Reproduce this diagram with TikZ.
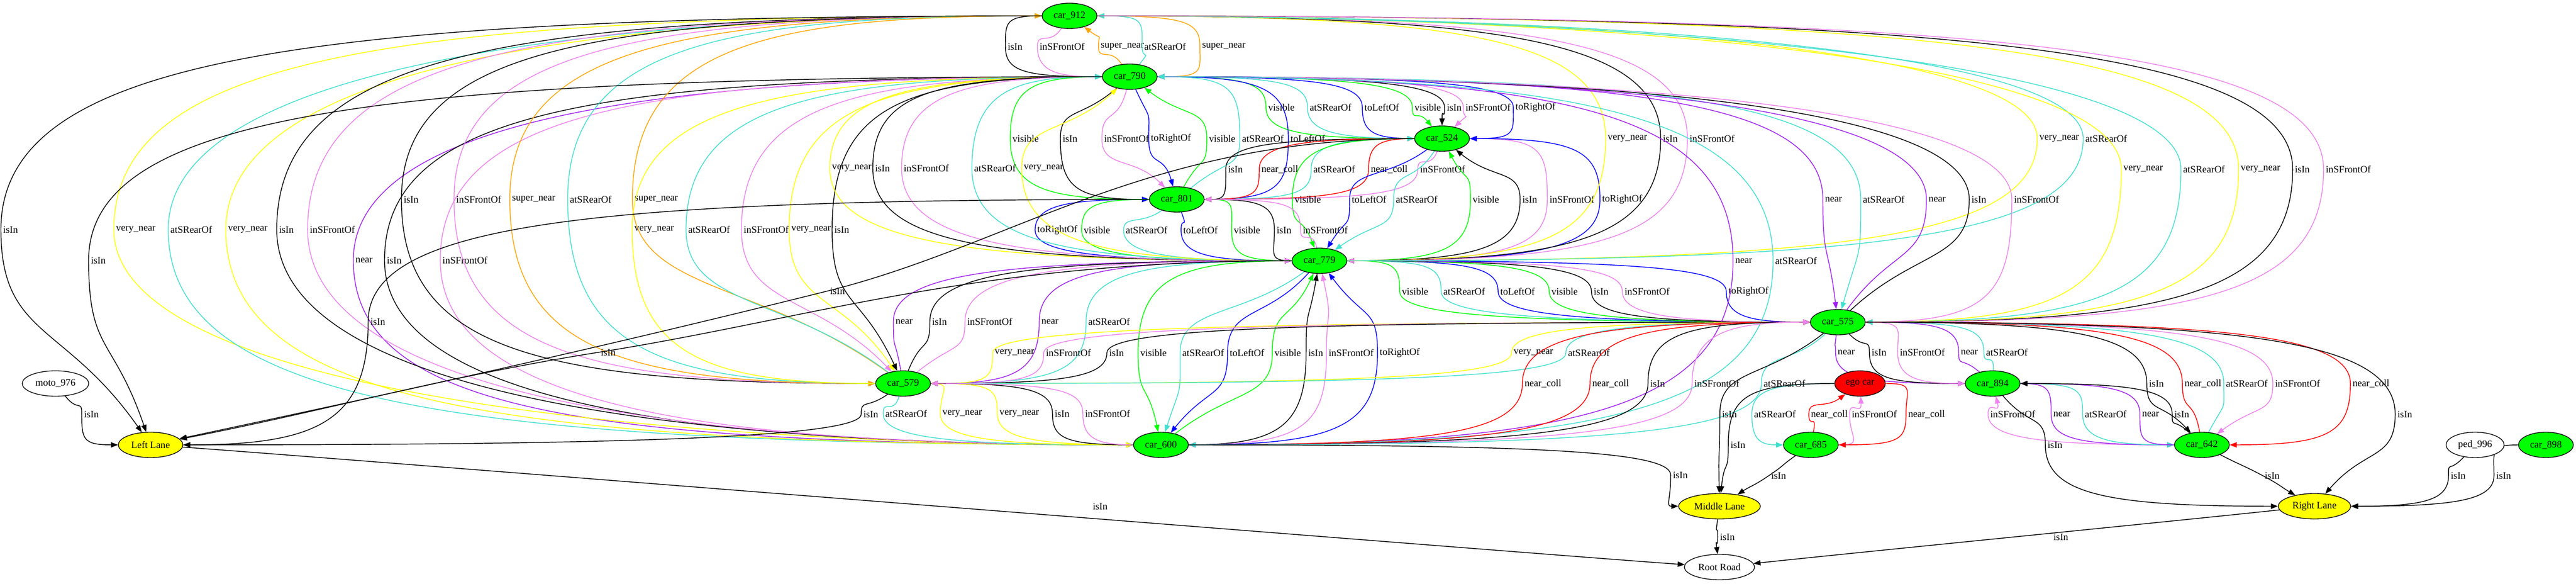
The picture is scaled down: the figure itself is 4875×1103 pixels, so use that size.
\documentclass[tikz,border=0pt]{standalone}
\usepackage{fontspec}
\setmainfont{Liberation Serif}
\usetikzlibrary{arrows.meta,shapes.geometric}
\definecolor{gvviolet}{HTML}{EE82EE}
\definecolor{gvturq}{HTML}{40E0D0}
\definecolor{gvpurple}{HTML}{A020F0}
\definecolor{gvyellow}{HTML}{FFFF00}
\definecolor{gvorange}{HTML}{FFA500}
\definecolor{gvgreen}{HTML}{00FF00}
\definecolor{gvblue}{HTML}{0000FF}
\definecolor{gvred}{HTML}{FF0000}
\pgfdeclarelayer{back}
\pgfdeclarelayer{bg}
\pgfsetlayers{back,bg,main}
\tikzset{
  gnode/.style={ellipse,draw=black,line width=1pt,inner xsep=5pt,inner ysep=3pt,minimum height=36pt,minimum width=70pt,font=\fontsize{14}{16}\selectfont},
  carnode/.style={gnode,fill=gvgreen},
  lanenode/.style={gnode,fill=gvyellow},
  egonode/.style={gnode,fill=gvred},
  plainnode/.style={gnode,fill=white},
  lbl/.style={inner xsep=3pt,inner ysep=1pt,font=\fontsize{14}{16}\selectfont},
  gvedge/.style={line width=1.1pt,-{Triangle[length=10pt,width=7.5pt]}},
  tIsIn/.style={gvedge,draw=black},
  tFront/.style={gvedge,draw=gvviolet},
  tRear/.style={gvedge,draw=gvturq},
  tNear/.style={gvedge,draw=gvpurple},
  tVnear/.style={gvedge,draw=gvyellow},
  tSnear/.style={gvedge,draw=gvorange},
  tVis/.style={gvedge,draw=gvgreen},
  tLR/.style={gvedge,draw=gvblue},
  tColl/.style={gvedge,draw=gvred},
}
\newcounter{lc}
\newcommand\N[5]{%
  \expandafter\gdef\csname nx@#1\endcsname{#2}%
  \expandafter\gdef\csname ny@#1\endcsname{#3}%
  \node[#4] (#1) at (#2,{1103-#3}) {#5};}
\newcommand\getpts[4]{%
  \pgfmathsetmacro\vx{#3-24}%
  \pgfmathsetmacro\vy{1103-#4}%
  \pgfmathsetmacro\sx{\csname nx@#1\endcsname}%
  \pgfmathsetmacro\sy{1103-\csname ny@#1\endcsname}%
  \pgfmathsetmacro\tx{\csname nx@#2\endcsname}%
  \pgfmathsetmacro\ty{1103-\csname ny@#2\endcsname}%
  \pgfmathsetmacro\dxa{\vx-\sx}%
  \pgfmathsetmacro\dya{\vy-\sy}%
  \pgfmathsetmacro\dxb{\tx-\vx}%
  \pgfmathsetmacro\dyb{\ty-\vy}}
\newcommand\ctrlpts{%
  \pgfmathsetmacro\cax{\sx+(\dA+25)/0.75*cos(\oA)}%
  \pgfmathsetmacro\cay{\sy+(\dA+25)/0.75*sin(\oA)}%
  \pgfmathsetmacro\cbx{\tx+(\eB+25)/0.75*cos(\iB)}%
  \pgfmathsetmacro\cby{\ty+(\eB+25)/0.75*sin(\iB)}}
\newcommand\E[6]{%
  \stepcounter{lc}\edef\curL{L\arabic{lc}}%
  \getpts{#2}{#3}{#4}{#5}%
  \pgfmathsetmacro\hA{abs(\dxa)>1.5*abs(\dya)}%
  \pgfmathtruncatemacro\oA{ifthenelse(\hA>0.5,ifthenelse(\dxa>0,0,180),atan2(\dya,\dxa))}%
  \pgfmathsetmacro\dA{min(1500,max(6,0.75*ifthenelse(\hA>0.5,0.7*abs(\dxa),50*veclen(\dxa/100,\dya/100))))}%
  \pgfmathtruncatemacro\iA{ifthenelse(\dya>0,-90,90)}%
  \pgfmathsetmacro\eA{min(400,max(6,0.75*ifthenelse(\hA>0.5,0.8*abs(\dya),0.5*abs(\dya))))}%
  \pgfmathsetmacro\hB{abs(\dxb)>1.5*abs(\dyb)}%
  \pgfmathtruncatemacro\oB{ifthenelse(\dyb>0,90,-90)}%
  \pgfmathsetmacro\dB{min(400,max(6,0.75*ifthenelse(\hB>0.5,0.8*abs(\dyb),0.5*abs(\dyb))))}%
  \pgfmathtruncatemacro\iB{ifthenelse(\hB>0.5,ifthenelse(\dxb>0,180,0),atan2(-(\dyb),-(\dxb)))}%
  \pgfmathsetmacro\eB{min(600,max(6,0.75*ifthenelse(\hB>0.5,0.7*abs(\dxb),50*veclen(\dxb/100,\dyb/100))))}%
  \ctrlpts
  \begin{pgfonlayer}{bg}
  \node[lbl] (\curL) at (#4,{1103-#5}) {#6};
  \draw[#1] (#2.\oA) .. controls (\cax,\cay) and ([shift={(\iA:\eA pt)}]\curL.west) .. (\curL.west)
     .. controls ([shift={(\oB:\dB pt)}]\curL.west) and (\cbx,\cby) .. (#3.\iB);
  \end{pgfonlayer}}
\newcommand\ES[6]{%
  \stepcounter{lc}\edef\curL{L\arabic{lc}}%
  \getpts{#2}{#3}{#4}{#5}%
  \pgfmathtruncatemacro\ang{atan2(\ty-\sy,\tx-\sx)}%
  \pgfmathtruncatemacro\oA{atan2(\dya,\dxa)}%
  \pgfmathtruncatemacro\iA{\ang+180}%
  \pgfmathsetmacro\dA{min(360,max(6,0.75*35*veclen(\dxa/100,\dya/100)))}%
  \pgfmathtruncatemacro\iB{atan2(-(\dyb),-(\dxb))}%
  \pgfmathsetmacro\eB{min(360,max(6,0.75*35*veclen(\dxb/100,\dyb/100)))}%
  \ctrlpts
  \begin{pgfonlayer}{bg}
  \node[lbl] (\curL) at (#4,{1103-#5}) {#6};
  \draw[#1] (#2.\oA) .. controls (\cax,\cay) and ([shift={(\iA:\dA pt)}]\curL.west) .. (\curL.west)
     .. controls ([shift={(\ang:\eB pt)}]\curL.west) and (\cbx,\cby) .. (#3.\iB);
  \end{pgfonlayer}}
\newcommand\ESH[6]{%
  \stepcounter{lc}\edef\curL{L\arabic{lc}}%
  \getpts{#2}{#3}{#4}{#5}%
  \pgfmathtruncatemacro\ang{atan2(\ty-\sy,\tx-\sx)}%
  \pgfmathtruncatemacro\oA{ifthenelse(\dxa>0,0,180)}%
  \pgfmathtruncatemacro\iA{\ang+180}%
  \pgfmathsetmacro\dA{min(1200,max(6,0.75*0.45*abs(\dxa)))}%
  \pgfmathsetmacro\eA{min(360,max(6,0.75*30*veclen(\dxa/100,\dya/100)))}%
  \pgfmathtruncatemacro\iB{atan2(-(\dyb),-(\dxb))}%
  \pgfmathsetmacro\eB{min(360,max(6,0.75*35*veclen(\dxb/100,\dyb/100)))}%
  \ctrlpts
  \begin{pgfonlayer}{bg}
  \node[lbl] (\curL) at (#4,{1103-#5}) {#6};
  \draw[#1] (#2.\oA) .. controls (\cax,\cay) and ([shift={(\iA:\eA pt)}]\curL.west) .. (\curL.west)
     .. controls ([shift={(\ang:\eB pt)}]\curL.west) and (\cbx,\cby) .. (#3.\iB);
  \end{pgfonlayer}}
\newcommand\EL[6]{%
  \stepcounter{lc}\edef\curL{L\arabic{lc}}%
  \getpts{#2}{#3}{#4}{#5}%
  \pgfmathtruncatemacro\ang{atan2(\ty-\sy,\tx-\sx)}%
  \pgfmathtruncatemacro\angb{\ang+180}%
  \begin{pgfonlayer}{bg}
  \node[lbl] (\curL) at (#4,{1103-#5}) {#6};
  \draw[#1] (#2.\ang) .. controls ([shift={(\ang:200pt)}]#2.\ang) and ([shift={(\angb:200pt)}]#3.\angb) .. (#3.\angb);
  \end{pgfonlayer}}
\begin{document}
\begin{tikzpicture}[x=0.75pt,y=0.75pt]
\useasboundingbox (0,0) rectangle (4875,1103);
\begin{pgfonlayer}{back}
\fill[white] (0,0) rectangle (4875,1103);
\end{pgfonlayer}
% nodes
\N{c912}{2024}{30}{carnode}{car\_912}
\N{c790}{2138}{145}{carnode}{car\_790}
\N{c524}{2729}{262}{carnode}{car\_524}
\N{c801}{2227}{377}{carnode}{car\_801}
\N{c779}{2497}{493}{carnode}{car\_779}
\N{c575}{3478}{609}{carnode}{car\_575}
\N{moto}{105}{725}{plainnode}{moto\_976}
\N{c579}{1709}{725}{carnode}{car\_579}
\N{ego}{3520}{725}{egonode}{ego car}
\N{c894}{3771}{725}{carnode}{car\_894}
\N{LL}{285}{841}{lanenode}{Left Lane}
\N{c600}{2197}{841}{carnode}{car\_600}
\N{c685}{3427}{841}{carnode}{car\_685}
\N{c642}{4167}{841}{carnode}{car\_642}
\N{ped}{4684}{841}{plainnode}{ped\_996}
\N{c898}{4818}{841}{carnode}{car\_898}
\N{ML}{3254}{957}{lanenode}{Middle Lane}
\N{RL}{4380}{957}{lanenode}{Right Lane}
\N{RR}{3254}{1072}{plainnode}{Root Road}
% car_912 - car_790
\E{tIsIn}{c912}{c790}{1921}{88}{isIn}
\E{tFront}{c912}{c790}{2010}{88}{inSFrontOf}
\E{tSnear}{c790}{c912}{2124}{88}{super\_near}
\E{tRear}{c790}{c912}{2205}{88}{atSRearOf}
\E{tSnear}{c912}{c790}{2316}{88}{super\_near}
% car_790 - car_524
\E{tVis}{c524}{c790}{2425}{203}{visible}
\E{tRear}{c524}{c790}{2518}{203}{atSRearOf}
\E{tLR}{c524}{c790}{2615}{203}{toLeftOf}
\E{tVis}{c790}{c524}{2702}{203}{visible}
\E{tIsIn}{c790}{c524}{2752}{203}{isIn}
\E{tFront}{c790}{c524}{2816}{203}{inSFrontOf}
\E{tLR}{c790}{c524}{2906}{203}{toRightOf}
% car_790 - car_801
\E{tVis}{c790}{c801}{1941}{262}{visible}
\E{tIsIn}{c790}{c801}{2025}{262}{isIn}
\E{tFront}{c790}{c801}{2132}{262}{inSFrontOf}
\E{tLR}{c790}{c801}{2216}{262}{toRightOf}
\E{tVis}{c801}{c790}{2313}{262}{visible}
\E{tRear}{c801}{c790}{2390}{262}{atSRearOf}
\E{tLR}{c801}{c790}{2475}{262}{toLeftOf}
% car_524 - car_801
\E{tIsIn}{c524}{c801}{2338}{320}{isIn}
\E{tColl}{c801}{c524}{2422}{320}{near\_coll}
\E{tRear}{c801}{c524}{2525}{320}{atSRearOf}
\E{tColl}{c524}{c801}{2629}{320}{near\_coll}
\E{tFront}{c524}{c801}{2730}{320}{inSFrontOf}
% car_524 - car_779
\E{tVis}{c524}{c779}{2475}{377}{visible}
\E{tLR}{c524}{c779}{2591}{377}{toLeftOf}
\E{tRear}{c524}{c779}{2681}{377}{atSRearOf}
\E{tVis}{c779}{c524}{2812}{377}{visible}
\E{tIsIn}{c779}{c524}{2895}{377}{isIn}
\E{tFront}{c779}{c524}{2975}{377}{inSFrontOf}
\E{tLR}{c779}{c524}{3070}{377}{toRightOf}
% car_801 - car_779
\E{tLR}{c779}{c801}{2001}{435}{toRightOf}
\E{tVis}{c801}{c779}{2076}{435}{visible}
\E{tRear}{c801}{c779}{2170}{435}{atSRearOf}
\E{tLR}{c801}{c779}{2272}{435}{toLeftOf}
\E{tVis}{c779}{c801}{2360}{435}{visible}
\E{tIsIn}{c779}{c801}{2430}{435}{isIn}
\E{tFront}{c779}{c801}{2508}{435}{inSFrontOf}
% car_779 - car_575
\E{tVis}{c575}{c779}{2678}{551}{visible}
\E{tRear}{c575}{c779}{2771}{551}{atSRearOf}
\E{tLR}{c575}{c779}{2872}{551}{toLeftOf}
\E{tVis}{c779}{c575}{2961}{551}{visible}
\E{tIsIn}{c779}{c575}{3030}{551}{isIn}
\E{tFront}{c779}{c575}{3117}{551}{inSFrontOf}
\E{tLR}{c779}{c575}{3309}{551}{toRightOf}
% car_912 - car_779
\E{tVnear}{c912}{c779}{3080}{262}{very\_near}
\E{tIsIn}{c912}{c779}{3161}{262}{isIn}
\E{tFront}{c912}{c779}{3240}{262}{inSFrontOf}
\E{tVnear}{c779}{c912}{3897}{262}{very\_near}
\E{tRear}{c779}{c912}{3986}{262}{atSRearOf}
% car_912 - car_575
\E{tVnear}{c575}{c912}{4056}{320}{very\_near}
\E{tRear}{c575}{c912}{4171}{320}{atSRearOf}
\E{tVnear}{c912}{c575}{4278}{320}{very\_near}
\E{tIsIn}{c912}{c575}{4357}{320}{isIn}
\E{tFront}{c912}{c575}{4444}{320}{inSFrontOf}
% car_790 - car_575
\E{tNear}{c790}{c575}{3470}{377}{near}
\E{tRear}{c790}{c575}{3565}{377}{atSRearOf}
\E{tNear}{c575}{c790}{3666}{377}{near}
\E{tIsIn}{c575}{c790}{3745}{377}{isIn}
\E{tFront}{c575}{c790}{3854}{377}{inSFrontOf}
% car_790 - car_600
\E{tNear}{c600}{c790}{689}{492}{near}
\E{tIsIn}{c790}{c600}{746}{492}{isIn}
\E{tFront}{c790}{c600}{880}{492}{inSFrontOf}
\E{tNear}{c790}{c600}{3300}{493}{near}
\E{tRear}{c600}{c790}{3399}{493}{atSRearOf}
% car_912 - car_600
\E{tVnear}{c912}{c600}{257}{434}{very\_near}
\E{tRear}{c600}{c912}{362}{434}{atSRearOf}
\E{tVnear}{c600}{c912}{469}{434}{very\_near}
\E{tIsIn}{c912}{c600}{542}{434}{isIn}
\E{tFront}{c912}{c600}{629}{434}{inSFrontOf}
% car_912 - car_579
\E{tIsIn}{c912}{c579}{778}{377}{isIn}
\E{tFront}{c912}{c579}{906}{377}{inSFrontOf}
\E{tSnear}{c912}{c579}{1010}{377}{super\_near}
\E{tRear}{c579}{c912}{1118}{377}{atSRearOf}
\E{tSnear}{c579}{c912}{1242}{377}{super\_near}
% car_790 - car_579
\E{tVnear}{c579}{c790}{1238}{434}{very\_near}
\E{tRear}{c579}{c790}{1342}{434}{atSRearOf}
\E{tFront}{c790}{c579}{1450}{434}{inSFrontOf}
\E{tVnear}{c790}{c579}{1535}{434}{very\_near}
\E{tIsIn}{c790}{c579}{1593}{434}{isIn}
% car_790 - car_779
\E{tVnear}{c790}{c779}{1612}{318}{very\_near}
\E{tIsIn}{c790}{c779}{1670}{318}{isIn}
\E{tFront}{c790}{c779}{1753}{318}{inSFrontOf}
\E{tRear}{c779}{c790}{1883}{318}{atSRearOf}
\E{tVnear}{c779}{c790}{1975}{318}{very\_near}
% car_779 - car_579
\E{tNear}{c579}{c779}{1711}{608}{near}
\E{tIsIn}{c579}{c779}{1778}{608}{isIn}
\E{tFront}{c579}{c779}{1873}{608}{inSFrontOf}
\E{tNear}{c779}{c579}{1987}{608}{near}
\E{tRear}{c779}{c579}{2099}{608}{atSRearOf}
% car_779 - car_600
\E{tVis}{c779}{c600}{2183}{667}{visible}
\E{tRear}{c779}{c600}{2277}{667}{atSRearOf}
\E{tLR}{c779}{c600}{2360}{667}{toLeftOf}
\E{tVis}{c600}{c779}{2437}{667}{visible}
\E{tIsIn}{c600}{c779}{2490}{667}{isIn}
\E{tFront}{c600}{c779}{2557}{667}{inSFrontOf}
\E{tLR}{c600}{c779}{2649}{667}{toRightOf}
% car_575 - car_579
\E{tVnear}{c575}{c579}{1920}{667}{very\_near}
\E{tFront}{c575}{c579}{2022}{667}{inSFrontOf}
\E{tIsIn}{c575}{c579}{2113}{667}{isIn}
\E{tVnear}{c579}{c575}{2902}{667}{very\_near}
\E{tRear}{c579}{c575}{3007}{667}{atSRearOf}
% car_575 - car_600
\E{tColl}{c600}{c575}{2920}{725}{near\_coll}
\E{tColl}{c575}{c600}{3048}{725}{near\_coll}
\E{tIsIn}{c600}{c575}{3137}{725}{isIn}
\E{tFront}{c600}{c575}{3249}{725}{inSFrontOf}
\E{tRear}{c575}{c600}{3377}{725}{atSRearOf}
% car_575 - car_894
\E{tNear}{c575}{c894}{3494}{666}{near}
\E{tIsIn}{c575}{c894}{3556}{666}{isIn}
\E{tFront}{c575}{c894}{3638}{666}{inSFrontOf}
\E{tNear}{c894}{c575}{3727}{666}{near}
\E{tRear}{c894}{c575}{3798}{666}{atSRearOf}
% car_575 - car_642
\E{tIsIn}{c575}{c642}{4081}{725}{isIn}
\E{tColl}{c642}{c575}{4169}{725}{near\_coll}
\E{tRear}{c642}{c575}{4252}{725}{atSRearOf}
\E{tFront}{c575}{c642}{4348}{725}{inSFrontOf}
\E{tColl}{c575}{c642}{4487}{725}{near\_coll}
% car_579 - car_600
\E{tRear}{c579}{c600}{1715}{782}{atSRearOf}
\E{tVnear}{c579}{c600}{1821}{782}{very\_near}
\E{tVnear}{c600}{c579}{1929}{782}{very\_near}
\E{tIsIn}{c600}{c579}{2010}{782}{isIn}
\E{tFront}{c600}{c579}{2096}{782}{inSFrontOf}
% car_894 - car_642
\E{tFront}{c642}{c894}{3809}{783}{inSFrontOf}
\E{tNear}{c894}{c642}{3902}{783}{near}
\E{tRear}{c894}{c642}{3985}{783}{atSRearOf}
\E{tNear}{c642}{c894}{4070}{783}{near}
\E{tIsIn}{c642}{c894}{4129}{783}{isIn}
% ego car - car_685
\E{tRear}{ego}{c685}{3359}{783}{atSRearOf}
\E{tColl}{c685}{ego}{3462}{783}{near\_coll}
\E{tFront}{c685}{ego}{3547}{783}{inSFrontOf}
\E{tColl}{ego}{c685}{3646}{783}{near\_coll}
% lanes
\E{tIsIn}{c912}{LL}{20}{434}{isIn}
\E{tIsIn}{c790}{LL}{186}{492}{isIn}
\E{tIsIn}{c801}{LL}{715}{608}{isIn}
\ESH{tIsIn}{c524}{LL}{1585}{550}{isIn}
\ESH{tIsIn}{c779}{LL}{1151}{666}{isIn}
\E{tIsIn}{moto}{LL}{173}{783}{isIn}
\E{tIsIn}{c579}{LL}{1648}{783}{isIn}
\EL{tIsIn}{LL}{RR}{2082}{957}{isIn}
\E{tIsIn}{c600}{ML}{3180}{898}{isIn}
\E{tIsIn}{c575}{ML}{3273}{783}{isIn}
\E{tIsIn}{ego}{ML}{3289}{841}{isIn}
\ES{tIsIn}{c685}{ML}{3366}{899}{isIn}
\E{tIsIn}{ML}{RR}{3269}{1015}{isIn}
\E{tIsIn}{c575}{RL}{4551}{783}{isIn}
\E{tIsIn}{c894}{RL}{3889}{841}{isIn}
\ES{tIsIn}{c642}{RL}{4300}{899}{isIn}
\E{tIsIn}{ped}{RL}{4652}{899}{isIn}
\E{tIsIn}{c898}{RL}{4738}{899}{isIn}
\EL{tIsIn}{RL}{RR}{3900}{1015}{isIn}
\end{tikzpicture}
\end{document}
